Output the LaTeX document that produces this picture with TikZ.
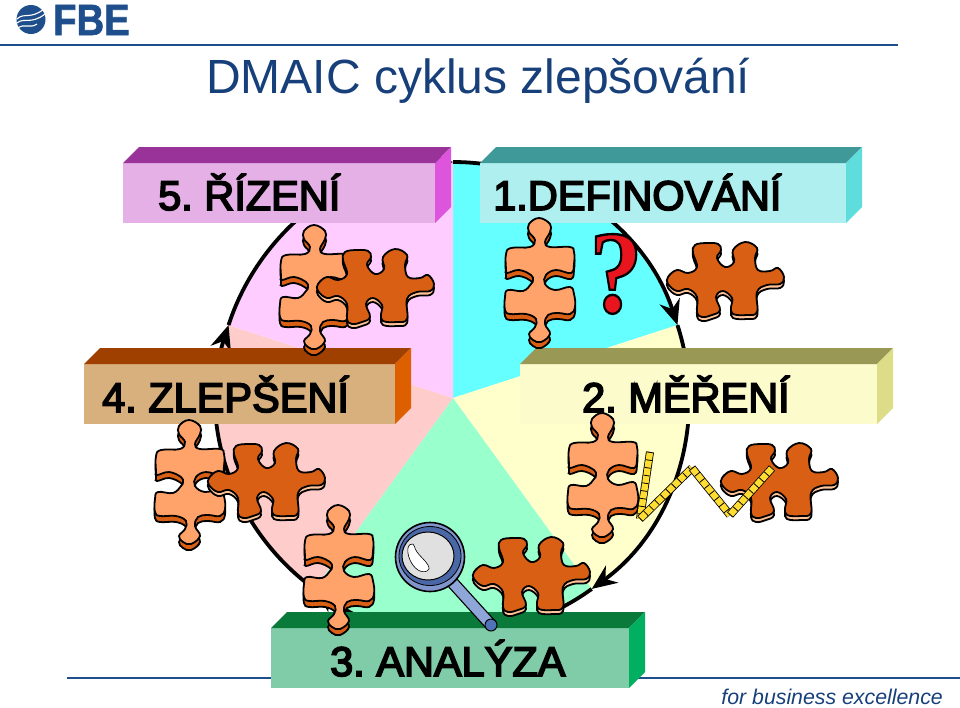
\documentclass[tikz,border=0pt]{standalone}
\usepackage{fontspec}
\setmainfont{Liberation Sans}
\newfontfamily\qfont[FakeBold=2]{Liberation Serif Bold}
\newfontfamily\slabfont[FakeBold=4]{Liberation Sans}
\newfontfamily\logofont[FakeBold=1.5]{Liberation Sans Bold}
\usetikzlibrary{arrows.meta}

\definecolor{fbeblue}{HTML}{1F4E8C}
\definecolor{titleblue}{HTML}{17407A}
\definecolor{piecelight}{HTML}{FFA36B}
\definecolor{piecedark}{HTML}{D95F14}
\definecolor{piecepeach}{HTML}{FFC49A}
\definecolor{ringblue}{HTML}{7F95CB}
\definecolor{ringdark}{HTML}{4A68A8}
\definecolor{handleblue}{HTML}{8FA6D8}
\definecolor{capblue}{HTML}{4E73B8}
\definecolor{rulegold}{HTML}{FFDD33}
\definecolor{qred}{HTML}{E8141E}

\newcommand{\lightoutline}{plot[smooth cycle,tension=.68] coordinates {
  (0,-64) (-10,-58) (-10,-50) (-4,-42) (-9,-35) (-28,-34) (-33,-28) (-33,-13)
  (-32,-9) (-20,-12) (-8,-7) (-6,-2) (-8,2) (-16,9) (-31,8) (-34,15) (-34,28)
  (-29,32) (-13,32) (-3,37) (-4,45) (-10,52) (-6,58) (2,60) (11,52) (6,42) (9,33)
  (19,31) (31,32) (36,25) (35,12) (31,5) (16,8) (6,2) (7,-7) (17,-12) (32,-9)
  (35,-18) (35,-30) (31,-35) (11,-35) (6,-40) (11,-50) (11,-58)}}
\newcommand{\darkoutline}{plot[smooth cycle,tension=.68] coordinates {
  (-30,-35) (-18,-37) (-7,-36) (-4,-30) (-8,-22) (0,-13) (9,-18) (8,-30) (20,-38)
  (32,-32) (30,-22) (33,-10) (45,-9) (53,-12) (59,-3) (55,4) (42,5) (32,12) (32,32)
  (22,35) (8,34) (6,27) (7,18) (-2,11) (-9,17) (-5,30) (-13,35) (-23,37) (-28,32)
  (-28,17) (-37,9) (-48,11) (-57,4) (-57,-3) (-48,-10) (-37,-7) (-28,-13) (-32,-27)}}

% block with its top and side faces
\newcommand{\slab}[7]{
  \node[slabface,fill=#6,minimum width=#4pt] (#1) at (#2,#3) {};
  \fill[#5] (#1.north west) -- ++(16,-16) -- ++(#4,0) -- (#1.north east) -- cycle;
  \fill[#7] (#1.north east) -- ++(16,-16) -- ++(0,60) -- (#1.south east) -- cycle;
}

\tikzset{
  slabface/.style={anchor=north west,inner sep=0pt,outer sep=0pt,minimum height=60pt},
  slablabel/.style={anchor=base west,inner sep=0pt,font=\frenchspacing\slabfont\fontsize{41.5}{41.5}\selectfont},
  cycleline/.style={line width=3.8pt,-{Stealth[length=25pt,width=21pt]}},
  lightpiece/.pic={
    \path[draw=black,line width=1.8pt,fill=piecedark,shift={(0,6)}] \lightoutline;
    \path[draw=black,line width=1.8pt,fill=piecelight] \lightoutline;
  },
  darkpiece/.pic={
    \path[draw=black,line width=1.8pt,fill=piecepeach,shift={(0,4)}] \darkoutline;
    \path[draw=black,line width=1.8pt,fill=piecedark] \darkoutline;
  },
  ruleseg/.style={line width=8pt,black},
  rulefill/.style={line width=6.4pt,rulegold},
  ruletick/.style={line width=6.4pt,black,dash pattern=on .8pt off 7pt},
}

\begin{document}
\begin{tikzpicture}[x=1pt,y=-1pt]
  \useasboundingbox (0,0) rectangle (960,707);

  % logo
  \fill[fbeblue] (31,19.5) circle (14.5);
  \draw[white,line width=1.1pt] (17,19) .. controls (24,12) and (30,20) .. (44,9);
  \draw[white,line width=1.1pt] (17,23) .. controls (24,17) and (31,25) .. (45,14);
  \draw[white,line width=1.1pt] (18,28) .. controls (24,23) and (30,29) .. (37,24);
  \node[anchor=base west,inner sep=0pt,text=fbeblue,xscale=.89,yscale=1.02,transform shape,
    font=\logofont\fontsize{43}{43}\selectfont] (logotext) at (53,35) {FBE};

  \coordinate (topleft) at (0,45);
  \coordinate (topright) at (898,45);
  \coordinate (footleft) at (67,678);
  \coordinate (footright) at (960,678);
  \draw[fbeblue,line width=2.4pt] (topleft) -- (topright);
  \draw[fbeblue,line width=2pt] (footleft) -- (footright);

  \node[anchor=base west,inner sep=0pt,text=titleblue,font=\fontsize{48}{48}\selectfont]
    (title) at (206,93) {DMAIC cyklus zlepšování};
  \node[anchor=base east,inner sep=0pt,text=titleblue,font=\itshape\fontsize{21.3}{21.3}\selectfont]
    (motto) at (943,704) {for business excellence};

  % pie and cycle
  \coordinate (hub) at (453,398);
  \foreach \a/\c in {90/66FFFF,18/FFFFCC,-54/99FFCC,-126/FFCCCC,-198/FFCCFF}{
    \definecolor{slicecol}{HTML}{\c}
    \fill[slicecol] (hub) -- ++(\a:236pt) arc[start angle=\a,delta angle=-72,radius=236pt] -- cycle;
  }
  \foreach \a in {90,18,-54,-126,-198}{
    \draw[cycleline] (hub) ++(\a:236pt) arc[start angle=\a,delta angle=-72,radius=236pt];
  }

  % blocks
  \definecolor{t5}{HTML}{993399}\definecolor{f5}{HTML}{E4B0E6}\definecolor{s5}{HTML}{DD55DD}
  \definecolor{t1}{HTML}{3F9999}\definecolor{f1}{HTML}{AFEFEF}\definecolor{s1}{HTML}{5FDDDD}
  \definecolor{t2}{HTML}{999955}\definecolor{f2}{HTML}{FBFBCC}\definecolor{s2}{HTML}{DDDD88}
  \definecolor{t4}{HTML}{A04000}\definecolor{f4}{HTML}{D8B07E}\definecolor{s4}{HTML}{DD5F00}
  \definecolor{t3}{HTML}{0A7A3A}\definecolor{f3}{HTML}{80CCA8}\definecolor{s3}{HTML}{00B060}
  \slab{rizeni}{123}{163}{312}{t5}{f5}{s5}
  \slab{defin}{480}{163}{366}{t1}{f1}{s1}
  \slab{mereni}{520}{364}{357}{t2}{f2}{s2}
  \slab{zlepseni}{84}{364}{311}{t4}{f4}{s4}
  \slab{analyza}{271}{628}{358}{t3}{f3}{s3}
  \node[slablabel] (rizenitxt) at (158,210) {5. ŘÍZENÍ};
  \node[slablabel] (defintxt) at (493,210) {1.DEFINOVÁNÍ};
  \node[slablabel] (merenitxt) at (582,412) {2. MĚŘENÍ};
  \node[slablabel] (zlepsenitxt) at (102,412) {4. ZLEPŠENÍ};
  \node[slablabel] (analyzatxt) at (330,676) {3. ANALÝZA};

  % puzzle pieces
  \foreach \x/\y in {539/282,314/289,189/484,338/569,602/477}{
    \pic at (\x,\y) {lightpiece};
  }
  \foreach \x/\y in {725/280,375/287,266/481,531/575,779/481}{
    \pic at (\x,\y) {darkpiece};
  }

  % question mark
  \node[inner sep=0pt,xscale=.9,transform shape] (query) at (616,274)
    {\color{qred}\special{pdf:code 0 0 0 RG}\qfont\fontsize{118}{118}\selectfont ?};

  % magnifier
  \coordinate (handlea) at (452,582);
  \coordinate (handleb) at (491,625);
  \draw[black,line width=12.5pt] (handlea) -- (handleb);
  \draw[handleblue,line width=10pt] (handlea) -- (handleb);
  \filldraw[fill=capblue,draw=black,line width=1pt] (handleb) circle (6);
  \filldraw[fill=ringblue,draw=black,line width=1.6pt] (430,557) circle (34.5);
  \filldraw[fill=ringdark,draw=black,line width=.8pt] (430,556) ellipse (31 and 29.5);
  \filldraw[fill=black!12,draw=black,line width=1pt] (428,556) ellipse (26 and 24);
  \filldraw[fill=white,draw=black,line width=.6pt] plot[smooth cycle,tension=.7] coordinates {
    (408,548) (413,544) (417,552) (428,565) (427,571) (418,570) (410,560)};

  % folding rule
  \coordinate (fold1) at (650,452);
  \coordinate (fold2) at (640,519);
  \coordinate (fold3) at (692,468);
  \coordinate (fold4) at (730,515);
  \coordinate (fold5) at (772,468);
  \foreach \p/\q in {fold1/fold2,fold2/fold3,fold3/fold4,fold4/fold5}{
    \draw[ruleseg] (\p) -- (\q);
    \draw[rulefill] (\p) -- (\q);
    \draw[ruletick] (\p) -- (\q);
  }
\end{tikzpicture}
\end{document}
